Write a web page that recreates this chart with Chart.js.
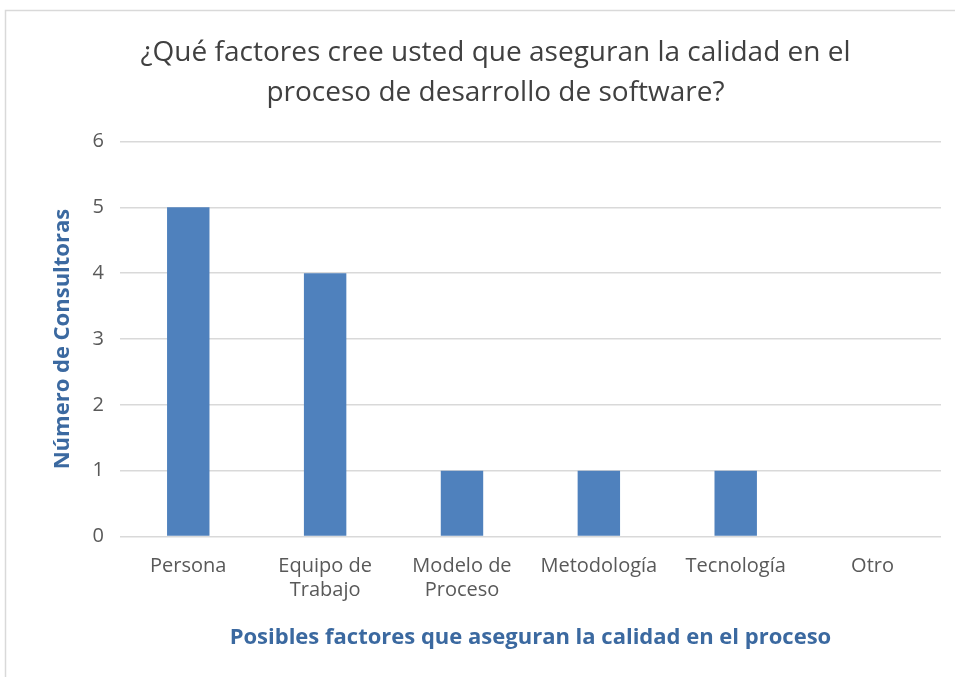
<!DOCTYPE html>
<html>
<head>
<meta charset="utf-8">
<script src="https://cdn.jsdelivr.net/npm/chart.js@4"></script>
<style>
  html, body { margin: 0; padding: 0; background: #fff; }
  #wrap { width: 955px; height: 677px; position: relative; }
</style>
</head>
<body>
<div id="wrap"><canvas id="chart" width="955" height="677"></canvas></div>
<script>
// --- DATA ---
const categories = [['Persona'], ['Equipo de', 'Trabajo'], ['Modelo de', 'Proceso'], ['Metodología'], ['Tecnología'], ['Otro']];
const consultoras = [5, 4, 1, 1, 1, 0];
const titleLines = ['¿Qué factores cree usted que aseguran la calidad en el', 'proceso de desarrollo de software?'];

const FONT = '"Liberation Sans Narrow", "Open Sans", sans-serif';
const axisBlue = '#3B69A0';

// frame around the chart, like the spreadsheet chart area
const framePlugin = {
    id: 'frame',
    beforeDraw(chart) {
        const ctx = chart.ctx;
        ctx.save();
        ctx.fillStyle = '#fff';
        ctx.fillRect(0, 0, chart.width, chart.height);
        ctx.strokeStyle = '#d9d9d9';
        ctx.lineWidth = 1.5;
        ctx.strokeRect(5.5, 10.5, chart.width + 10, chart.height + 10);
        ctx.restore();
    }
};

new Chart(document.getElementById('chart').getContext('2d'), {
    type: 'bar',
    data: {
        labels: categories,
        datasets: [{
            label: 'Número de Consultoras',
            data: consultoras,
            backgroundColor: '#4F81BD',
            categoryPercentage: 1,
            barPercentage: 0.31
        }]
    },
    plugins: [framePlugin],
    options: {
        responsive: false,
        animation: false,
        layout: { padding: { left: 50, right: 14, top: 33, bottom: 22 } },
        plugins: {
            legend: { display: false },
            tooltip: { enabled: false },
            title: {
                display: true,
                text: titleLines,
                color: '#404040',
                font: { family: FONT, size: 28, weight: 'normal', lineHeight: 1.42 },
                padding: { top: 0, bottom: 29 }
            }
        },
        scales: {
            x: {
                grid: { display: false },
                border: { display: false },
                ticks: {
                    color: '#595959',
                    font: { family: FONT, size: 20 },
                    maxRotation: 0,
                    autoSkip: false,
                    padding: 10
                },
                title: {
                    display: true,
                    text: 'Posibles factores que aseguran la calidad en el proceso',
                    color: axisBlue,
                    font: { family: FONT, size: 22, weight: 'bold' },
                    padding: { top: 12 }
                }
            },
            y: {
                min: 0,
                max: 6,
                ticks: {
                    stepSize: 1,
                    color: '#595959',
                    font: { family: FONT, size: 20 },
                    padding: 16
                },
                grid: { color: '#d9d9d9', lineWidth: 1.5, drawTicks: false },
                border: { display: false },
                title: {
                    display: true,
                    text: 'Número de Consultoras',
                    color: axisBlue,
                    font: { family: FONT, size: 22, weight: 'bold' },
                    padding: { top: 0, bottom: 0 }
                }
            }
        }
    }
});
</script>
</body>
</html>
